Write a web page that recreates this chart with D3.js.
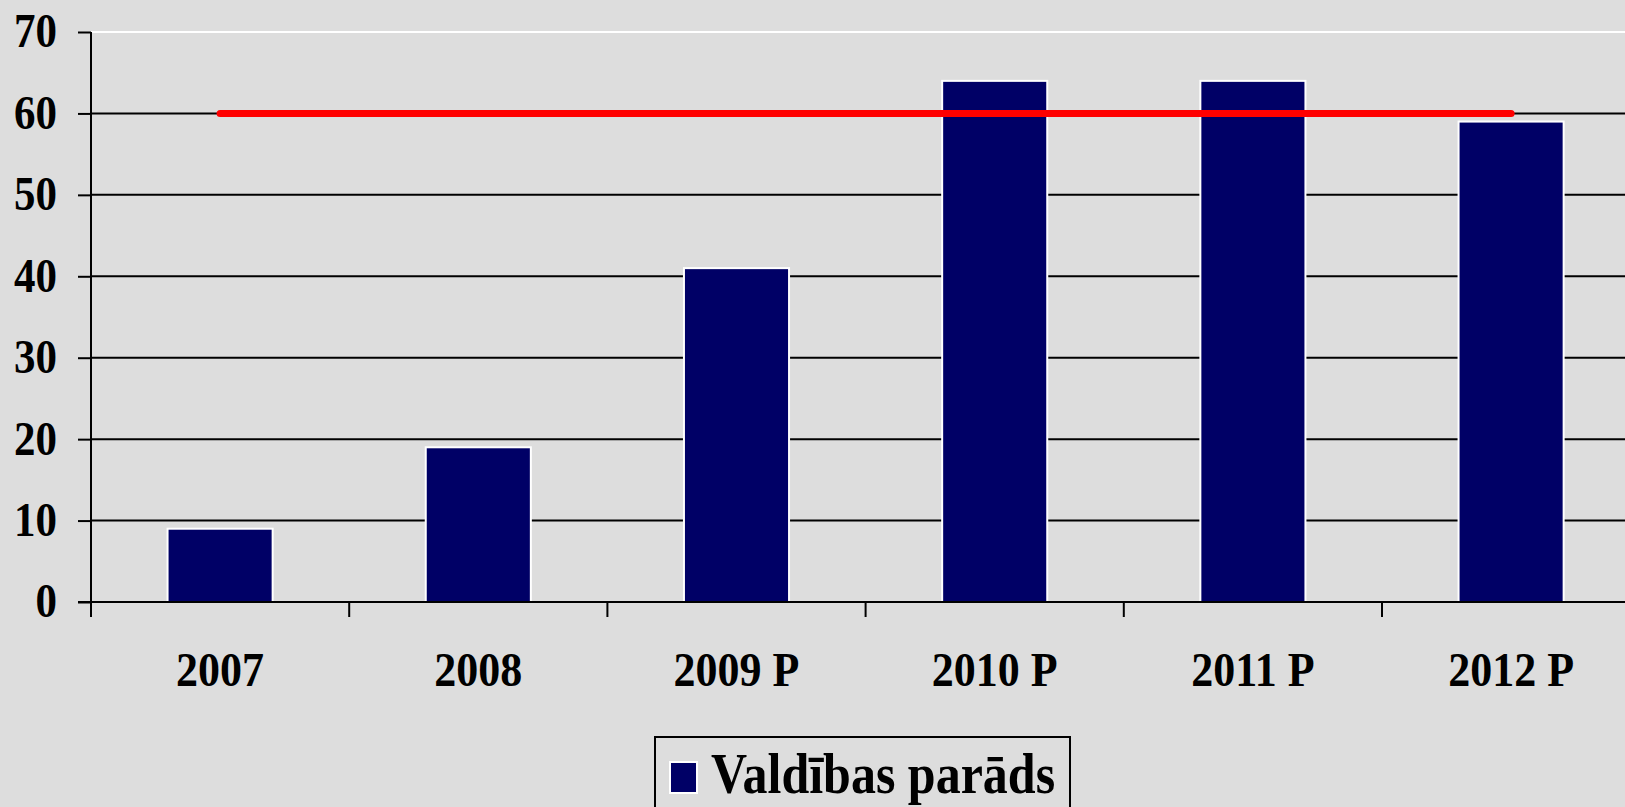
<!DOCTYPE html>
<html>
<head>
<meta charset="utf-8">
<script src="https://cdn.jsdelivr.net/npm/d3@7"></script>
<style>
	body { margin: 0; background: #dddddd; }
	#plot-ui { width: 1625px; height: 807px; }
	text { font-family: "Liberation Serif", "Times New Roman", serif; font-weight: bold; }
</style>
</head>
<body>
<div id="plot-ui"></div>
<script>
// data
let years = ["2007", "2008", "2009 P", "2010 P", "2011 P", "2012 P"];
let debt = [9, 19, 41, 64, 64, 59];
let limit = [60, 60, 60, 60, 60, 60];
let yTicks = [0, 10, 20, 30, 40, 50, 60, 70];
let legendLabel = "Valdības parāds";

let data = years.map(function(d, i) {
	return { year: d, debt: debt[i], limit: limit[i] };
});

let W = 1625, H = 807;
let plotLeft = 91, plotTop = 32, plotBottom = 602;
let step = 258.2;
let stretch = 1.12; // text in the original looks a bit taller than wide

let svg = d3.select('#plot-ui').append('svg')
	.attr('width', W)
	.attr('height', H);

svg.append('rect')
	.attr('width', W).attr('height', H)
	.attr('fill', '#dddddd');

let x = d3.scaleBand()
	.domain(years)
	.range([plotLeft, plotLeft + step * years.length])
	.paddingInner(0.593)
	.paddingOuter(0.2965);

let y = d3.scaleLinear()
	.domain([0, 70])
	.range([plotBottom, plotTop]);

// gridlines
svg.selectAll('.grid')
	.data(yTicks.filter(function(d) { return d > 0; }))
	.enter().append('line').classed('grid', true)
	.attr('x1', plotLeft).attr('x2', W)
	.attr('y1', function(d) { return y(d); })
	.attr('y2', function(d) { return y(d); })
	.attr('stroke', function(d) { return d === 70 ? '#ffffff' : '#000000'; })
	.attr('stroke-width', 2);

// y axis
let yAxis = d3.axisLeft(y)
	.tickValues(yTicks)
	.tickSize(13)
	.tickPadding(21);

let gy = svg.append('g')
	.attr('transform', 'translate(' + plotLeft + ',0)')
	.call(yAxis);
gy.select('.domain').remove();
gy.selectAll('.tick line').attr('stroke', '#000').attr('stroke-width', 2);
gy.selectAll('.tick text')
	.attr('fill', '#000')
	.style('font-size', '43px')
	.attr('dy', '0.31em')
	.attr('transform', 'scale(1,' + stretch + ')');

svg.append('line')
	.attr('x1', plotLeft).attr('x2', plotLeft)
	.attr('y1', plotTop).attr('y2', plotBottom + 15)
	.attr('stroke', '#000').attr('stroke-width', 2);

// bars
svg.selectAll('.bar')
	.data(data)
	.enter().append('rect').classed('bar', true)
	.attr('x', function(d) { return x(d.year); })
	.attr('width', x.bandwidth())
	.attr('y', function(d) { return y(d.debt); })
	.attr('height', function(d) { return y(0) - y(d.debt); })
	.attr('fill', '#000066')
	.attr('stroke', '#ffffff')
	.attr('stroke-width', 2);

// x axis
svg.append('line')
	.attr('x1', plotLeft - 13).attr('x2', W)
	.attr('y1', plotBottom).attr('y2', plotBottom)
	.attr('stroke', '#000').attr('stroke-width', 2);

svg.selectAll('.xtick')
	.data(d3.range(years.length + 1))
	.enter().append('line').classed('xtick', true)
	.attr('x1', function(i) { return plotLeft + i * x.step(); })
	.attr('x2', function(i) { return plotLeft + i * x.step(); })
	.attr('y1', plotBottom).attr('y2', plotBottom + 15)
	.attr('stroke', '#000').attr('stroke-width', 2);

svg.selectAll('.xlabel')
	.data(years)
	.enter().append('text').classed('xlabel', true)
	.attr('transform', function(d) {
		return 'translate(' + (x(d) + x.bandwidth() / 2) + ',686) scale(1,' + stretch + ')';
	})
	.attr('text-anchor', 'middle')
	.style('font-size', '44px')
	.text(function(d) { return d; });

// 60% limit line
let line = d3.line()
	.x(function(d) { return x(d.year) + x.bandwidth() / 2; })
	.y(function(d) { return y(d.limit); });

svg.append('path')
	.datum(data)
	.attr('d', line)
	.attr('fill', 'none')
	.attr('stroke', '#ff0000')
	.attr('stroke-width', 7)
	.attr('stroke-linecap', 'round');

// legend
let legend = svg.append('g').attr('transform', 'translate(655,737)');
legend.append('rect')
	.attr('width', 415).attr('height', 90)
	.attr('fill', 'none')
	.attr('stroke', '#000').attr('stroke-width', 2);
legend.append('rect')
	.attr('x', 15).attr('y', 25)
	.attr('width', 27).attr('height', 31)
	.attr('fill', '#000066')
	.attr('stroke', '#ffffff').attr('stroke-width', 2);
legend.append('text')
	.attr('transform', 'translate(56,56) scale(1,' + stretch + ')')
	.style('font-size', '50px')
	.text(legendLabel);
</script>
</body>
</html>
